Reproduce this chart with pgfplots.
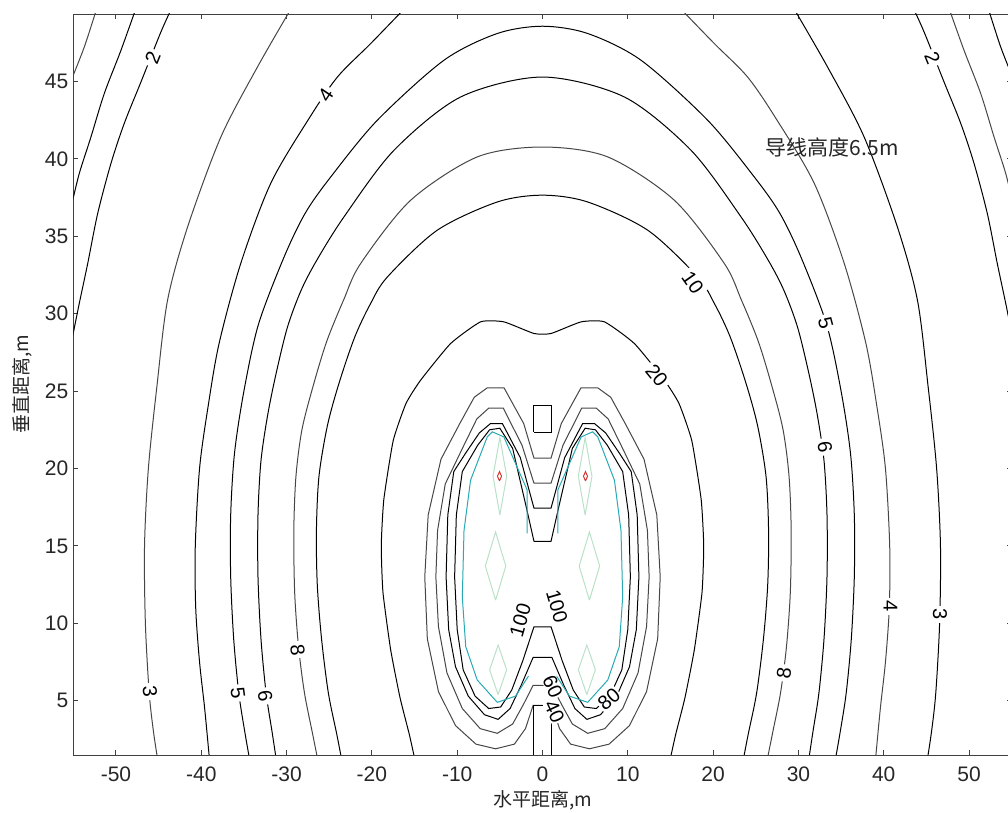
\documentclass[border=0pt]{standalone}
\usepackage{fontspec}
\setmainfont{Liberation Sans}
\newfontfamily\cjk{Noto Sans CJK SC}
\usepackage{pgfplots}
\pgfplotsset{compat=1.18}
\definecolor{cl}{RGB}{70,70,70}
\definecolor{teal1}{RGB}{40,170,180}
\definecolor{grn1}{RGB}{185,225,200}
\definecolor{red1}{RGB}{210,60,50}
\begin{document}
\begin{tikzpicture}
\begin{axis}[
 name=ax,
 scale only axis,
 width=469.2pt, height=370.5pt,
 xmin=-55, xmax=55, ymin=1.5, ymax=49.35,
 xtick={-50,-40,...,50}, ytick={5,10,...,45},
 tick align=inside,
 major tick length=2.5pt,
 axis line style={black!75},
 tick style={black!75, line width=0.5pt},
 /pgf/number format/assume math mode=true,
 every tick label/.append style={font=\fontsize{10.5}{12}\selectfont, text=black!85},
 xticklabel style={yshift=-2.5pt},
 yticklabel style={xshift=1pt},
 xlabel={\cjk 水平距离,m}, ylabel={\cjk 垂直距离,m},
 xlabel style={at={(axis description cs:0.5,-0.0607)}, anchor=center, font=\fontsize{9.5}{11}\selectfont, text=black!85},
 ylabel style={at={(axis description cs:-0.0543,0.5)}, anchor=center, font=\fontsize{9.5}{11}\selectfont, text=black!85},
 cycle list={{draw=cl,solid,mark=none}},
 no markers,
 every axis plot/.append style={line width=0.5pt},
 clip=true,
]
% outer open lines (left and right)
\addplot+[smooth, tension=0.5] coordinates {(-52.2,49.8) (-53.71,47.22) (-55.3,45.0)};
\addplot+[smooth, tension=0.5] coordinates {(52.2,49.8) (53.71,47.22) (55.3,45.0)};
\addplot+[smooth, tension=0.5] coordinates {(-47.6,49.8) (-49.41,47.01) (-51.37,44.21) (-52.93,41.41) (-54.30,39.05) (-55.2,37.0)};
\addplot+[smooth, tension=0.5] coordinates {(47.6,49.8) (49.41,47.01) (51.37,44.21) (52.93,41.41) (54.30,39.05) (55.2,37.0)};
% level 2
\addplot+[smooth, tension=0.5] coordinates {(-43.4,49.8) (-44.73,48.19) (-47.07,44.96) (-49.03,42.28) (-50.59,39.69) (-52.14,36.47) (-53.31,33.24) (-54.30,30.66) (-55.2,28.2)};
\addplot+[smooth, tension=0.5] coordinates {(43.4,49.8) (44.73,48.19) (47.07,44.96) (49.03,42.28) (50.59,39.69) (52.14,36.47) (53.31,33.24) (54.30,30.66) (55.2,28.2)};
% level 3
\addplot+[smooth, tension=0.5] coordinates {(-29.36,49.8) (-33.41,45.93) (-37.70,41.41) (-41.60,35.60) (-43.95,30.87) (-45.2,25.3) (-46.2,20.0) (-46.65,15.0) (-46.55,10.0) (-46.1,5.5) (-45.6,3.0) (-45.05,1.0)};
\addplot+[smooth, tension=0.5] coordinates {(29.36,49.8) (33.41,45.93) (37.70,41.41) (41.60,35.60) (43.95,30.87) (45.2,25.3) (46.2,20.0) (46.65,15.0) (46.55,10.0) (46.1,5.5) (45.6,3.0) (45.05,1.0)};
% level 4
\addplot+[smooth, tension=0.5] coordinates {(-16.0,49.8) (-20.14,47.44) (-24.04,45.28) (-27.37,42.60) (-31.85,38.42) (-35.36,33.26) (-37.9,28.1) (-39.2,24.0) (-40.2,20.0) (-40.7,15.0) (-40.65,11.0) (-40.2,7.5) (-39.6,4.5) (-39.0,1.0)};
\addplot+[smooth, tension=0.5] coordinates {(16.0,49.8) (20.14,47.44) (24.04,45.28) (27.37,42.60) (31.85,38.42) (35.36,33.26) (37.9,28.1) (39.2,24.0) (40.2,20.0) (40.7,15.0) (40.65,11.0) (40.2,7.5) (39.6,4.5) (39.0,1.0)};
% level 5
\addplot+[smooth, tension=0.5] coordinates {(-34.2,0.8) (-34.9,3.0) (-35.6,5.5) (-36.2,9.0) (-36.55,13.0) (-36.55,17.0) (-36.1,21.0) (-35.0,25.0) (-33.3,29.3) (-30.29,33.66) (-27.8,36.5) (-24.82,38.83) (-19.36,42.49) (-11.56,46.36) (-5.30,48.09) (0,48.56) (5.30,48.09) (11.56,46.36) (19.36,42.49) (24.82,38.83) (27.8,36.5) (30.29,33.66) (33.3,29.3) (35.0,25.0) (36.1,21.0) (36.55,17.0) (36.55,13.0) (36.2,9.0) (35.6,5.5) (34.9,3.0) (34.2,0.8)};
% level 6
\addplot+[smooth, tension=0.5] coordinates {(-31.1,0.8) (-31.7,3.0) (-32.4,5.5) (-33.0,9.0) (-33.35,13.0) (-33.35,17.0) (-33.0,20.5) (-32.2,23.5) (-31.2,26.2) (-29.89,29.14) (-28.3,31.5) (-26.46,33.45) (-23.27,36.25) (-17.41,40.55) (-9.60,43.99) (0,45.28) (9.60,43.99) (17.41,40.55) (23.27,36.25) (26.46,33.45) (28.3,31.5) (29.89,29.14) (31.2,26.2) (32.2,23.5) (33.0,20.5) (33.35,17.0) (33.35,13.0) (33.0,9.0) (32.4,5.5) (31.7,3.0) (31.1,0.8)};
% level 8
\addplot+[smooth, tension=0.5] coordinates {(-26.2,0.8) (-27.0,3.0) (-27.9,5.5) (-28.6,8.5) (-29.05,12.0) (-29.15,16.0) (-28.9,19.5) (-28.2,22.5) (-26.9,25.3) (-25.3,28.2) (-23.3,30.9) (-21.31,33.24) (-15.46,37.32) (-7.65,40.12) (0,40.76) (7.65,40.12) (15.46,37.32) (21.31,33.24) (23.3,30.9) (25.3,28.2) (26.9,25.3) (28.2,22.5) (28.9,19.5) (29.15,16.0) (29.05,12.0) (28.6,8.5) (27.9,5.5) (27.0,3.0) (26.2,0.8)};
% level 10
\addplot+[smooth, tension=0.5] coordinates {(-23.4,0.8) (-24.1,2.8) (-25.1,5.5) (-25.9,9.0) (-26.4,12.5) (-26.5,16.0) (-26.2,19.5) (-25.2,22.8) (-23.8,25.6) (-22.0,28.5) (-20.2,30.6) (-18.18,32.37) (-12.33,35.39) (-5.30,37.21) (0,37.65) (5.30,37.21) (12.33,35.39) (18.18,32.37) (20.2,30.6) (22.0,28.5) (23.8,25.6) (25.2,22.8) (26.2,19.5) (26.5,16.0) (26.4,12.5) (25.9,9.0) (25.1,5.5) (24.1,2.8) (23.4,0.8)};
% level 20
\addplot+[smooth, tension=0.3] coordinates {(-14.8,0.8) (-15.6,2.8) (-16.7,5.2) (-17.8,8.3) (-18.7,12.0) (-18.9,15.0) (-18.6,18.0) (-17.5,21.8) (-16.0,24.2) (-14.29,25.70) (-10.77,28.07) (-7.26,29.47) (-4.53,29.47) (-1.0,28.72) (1.0,28.72) (4.53,29.47) (7.26,29.47) (10.77,28.07) (14.29,25.70) (16.0,24.2) (17.5,21.8) (18.6,18.0) (18.9,15.0) (18.7,12.0) (17.8,8.3) (16.7,5.2) (15.6,2.8) (14.8,0.8)};
% level 40
\addplot coordinates {(-1.0,20.67) (-2.2,22.9) (-4.5,25.2) (-6.5,25.2) (-8.0,24.6) (-9.7,22.9) (-11.9,20.6) (-13.4,17.0) (-13.8,13.0) (-13.5,9.0) (-12.2,5.6) (-10.2,3.4) (-7.8,2.2) (-5.5,1.9) (-3.3,2.2) (-2.0,3.2) (-1.1,4.7) (1.1,4.7) (2.0,3.2) (3.3,2.2) (5.5,1.9) (7.8,2.2) (10.2,3.4) (12.2,5.6) (13.5,9.0) (13.8,13.0) (13.4,17.0) (11.9,20.6) (9.7,22.9) (8.0,24.6) (6.5,25.2) (4.5,25.2) (2.2,22.9) (1.0,20.67) (-1.0,20.67)};
% boxes
\addplot coordinates {(-1.0,22.35) (-1.0,24.09) (1.0,24.09) (1.0,22.35) (-1.0,22.35)};
\addplot coordinates {(-1.0,1.3) (-1.0,4.72) (1.1,4.72) (1.1,1.3)};
% level 60
\addplot coordinates {(-1.0,19.05) (-2.4,21.5) (-4.6,23.9) (-6.3,23.9) (-7.7,23.2) (-9.3,21.4) (-11.4,19.0) (-12.3,16.0) (-12.5,13.0) (-12.2,9.8) (-11.2,6.8) (-9.4,4.5) (-7.3,3.2) (-5.3,2.9) (-3.5,3.5) (-2.2,4.8) (-1.1,6.0) (1.1,6.0) (2.2,4.8) (3.5,3.5) (5.3,2.9) (7.3,3.2) (9.4,4.5) (11.2,6.8) (12.2,9.8) (12.5,13.0) (12.3,16.0) (11.4,19.0) (9.3,21.4) (7.7,23.2) (6.3,23.9) (4.6,23.9) (2.4,21.5) (1.0,19.05) (-1.0,19.05)};
% level 80
\addplot coordinates {(-1.0,17.44) (-2.6,20.7) (-4.7,22.9) (-6.1,22.9) (-7.4,22.3) (-9.0,21.0) (-10.4,19.8) (-11.1,17.0) (-11.3,13.0) (-11.0,9.6) (-10.2,7.2) (-8.7,5.3) (-6.8,4.1) (-5.2,3.8) (-3.8,4.5) (-2.5,6.0) (-1.1,7.8) (1.1,7.8) (2.5,6.0) (3.8,4.5) (5.2,3.8) (6.8,4.1) (8.7,5.3) (10.2,7.2) (11.0,9.6) (11.3,13.0) (11.1,17.0) (10.4,19.8) (9.0,21.0) (7.4,22.3) (6.1,22.9) (4.7,22.9) (2.6,20.7) (1.0,17.44) (-1.0,17.44)};
% level 100
\addplot coordinates {(-1.0,15.3) (-1.9,17.5) (-3.5,21.3) (-5.0,22.6) (-6.2,22.5) (-7.6,21.5) (-9.4,19.8) (-10.1,17.0) (-10.3,13.0) (-10.0,9.6) (-9.3,7.0) (-7.9,5.3) (-6.3,4.5) (-4.9,4.6) (-3.6,5.7) (-2.3,7.6) (-1.0,9.78) (1.0,9.78) (2.3,7.6) (3.6,5.7) (4.9,4.6) (6.3,4.5) (7.9,5.3) (9.3,7.0) (10.0,9.6) (10.3,13.0) (10.1,17.0) (9.4,19.8) (7.6,21.5) (6.2,22.5) (5.0,22.6) (3.5,21.3) (1.9,17.5) (1.0,15.3) (-1.0,15.3)};
% teal
\addplot[draw=teal1, line width=0.5pt] coordinates {(-1.79,15.81) (-1.79,18.60) (-4.53,22.04) (-5.89,22.37) (-6.48,22.04) (-8.43,19.25) (-9.2,16.0) (-9.4,11.7) (-9.0,8.5) (-7.65,6.34) (-5.30,4.9) (-3.16,5.3) (-1.64,6.6)};
\addplot[draw=teal1, line width=0.5pt] coordinates {(1.79,15.81) (1.79,18.60) (4.53,22.04) (5.89,22.37) (6.48,22.04) (8.43,19.25) (9.2,16.0) (9.4,11.7) (9.0,8.5) (7.65,6.34) (5.30,4.9) (3.16,5.3) (1.64,6.6)};
% faint diamonds
\addplot[draw=grn1, line width=0.5pt] coordinates {(-5.0,17.0) (-4.2,19.5) (-5.0,22.0) (-5.8,19.5) (-5.0,17.0)};
\addplot[draw=grn1, line width=0.5pt] coordinates {(5.0,17.0) (4.2,19.5) (5.0,22.0) (5.8,19.5) (5.0,17.0)};
\addplot[draw=grn1, line width=0.5pt] coordinates {(-5.5,11.5) (-4.3,13.7) (-5.5,15.9) (-6.7,13.7) (-5.5,11.5)};
\addplot[draw=grn1, line width=0.5pt] coordinates {(5.5,11.5) (4.3,13.7) (5.5,15.9) (6.7,13.7) (5.5,11.5)};
\addplot[draw=grn1, line width=0.5pt] coordinates {(-5.2,5.4) (-4.2,7.0) (-5.2,8.6) (-6.2,7.0) (-5.2,5.4)};
\addplot[draw=grn1, line width=0.5pt] coordinates {(5.2,5.4) (4.2,7.0) (5.2,8.6) (6.2,7.0) (5.2,5.4)};
\addplot[draw=red1, line width=0.5pt] coordinates {(-5.04,19.2) (-4.8,19.5) (-5.04,19.8) (-5.28,19.5) (-5.04,19.2)};
\addplot[draw=red1, line width=0.5pt] coordinates {(5.04,19.2) (4.8,19.5) (5.04,19.8) (5.28,19.5) (5.04,19.2)};
% contour labels
\tikzset{cl/.style={fill=white, inner sep=1.5pt, font=\fontsize{10}{12}\selectfont, text=black}}
\node[cl, rotate=68] at (axis cs:-45.7,46.5) {2};
\node[cl, rotate=-68] at (axis cs:45.7,46.5) {2};
\node[cl, rotate=56] at (axis cs:-25.4,44.1) {4};
\node[cl, rotate=-85] at (axis cs:-46.0,5.6) {3};
\node[cl, rotate=-82] at (axis cs:-35.7,5.5) {5};
\node[cl, rotate=-82] at (axis cs:-32.5,5.3) {6};
\node[cl, rotate=-83] at (axis cs:-28.7,8.3) {8};
\node[cl, rotate=83] at (axis cs:28.3,6.8) {8};
\node[cl, rotate=-90] at (axis cs:46.6,10.6) {3};
\node[cl, rotate=-90] at (axis cs:40.8,11.1) {4};
\node[cl, rotate=-82] at (axis cs:33.1,21.4) {6};
\node[cl, rotate=-75] at (axis cs:33.2,29.4) {5};
\node[cl, rotate=-55] at (axis cs:17.6,32.0) {10};
\node[cl, rotate=-51] at (axis cs:13.4,26.0) {20};
\node[cl, rotate=74, inner sep=0.5pt] at (axis cs:-2.6,10.2) {100};
\node[cl, rotate=-74, inner sep=0.5pt] at (axis cs:1.7,11.1) {100};
\node[cl, rotate=-65, inner sep=0.3pt] at (axis cs:1.2,5.9) {60};
\node[cl, rotate=-65, inner sep=0.3pt] at (axis cs:1.4,4.3) {40};
\node[cl, rotate=40, inner sep=0.5pt] at (axis cs:7.8,5.1) {80};
\node[font=\cjk\fontsize{10.5}{12}\selectfont, text=black!85] at (axis cs:33.96,40.76) {导线高度6.5m};
\end{axis}
\pgfresetboundingbox
\path[use as bounding box] ([xshift=-36.65pt,yshift=-29pt]ax.south west) rectangle ([xshift=467.35pt,yshift=7pt]ax.north west);
\end{tikzpicture}
\end{document}
